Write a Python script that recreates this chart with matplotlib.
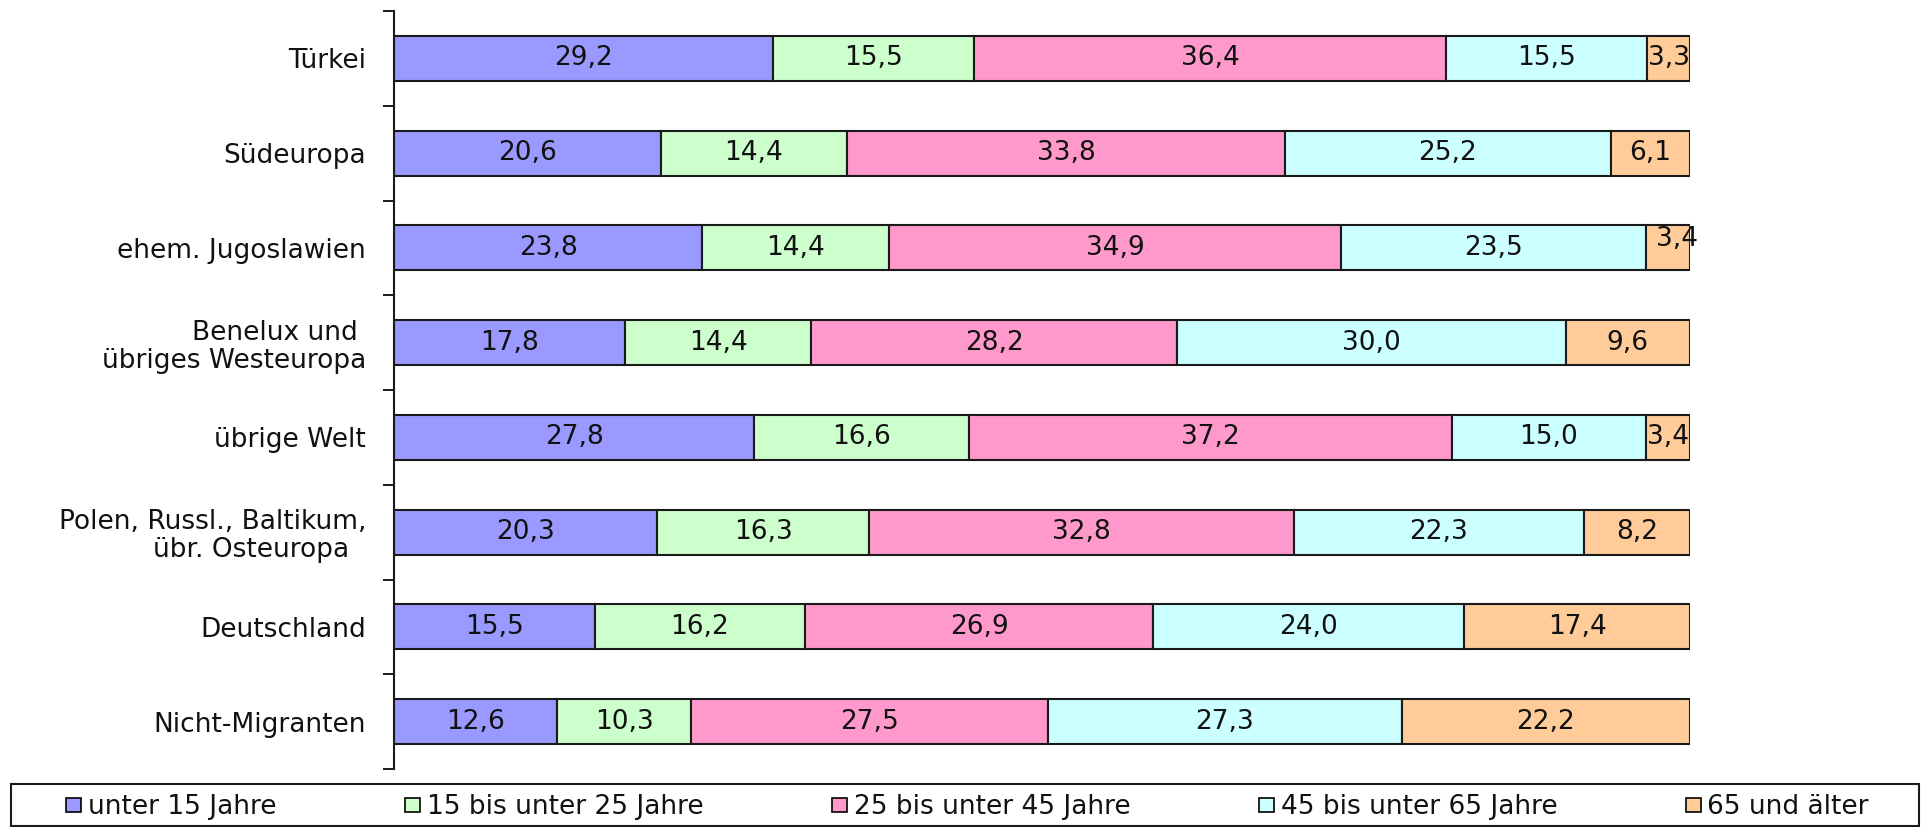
import matplotlib
matplotlib.use("Agg")
import matplotlib.pyplot as plt
from matplotlib.patches import Patch, Rectangle
import numpy as np

plt.rcParams['font.family'] = ['DejaVu Sans']

categories = [
    "Türkei",
    "Südeuropa",
    "ehem. Jugoslawien",
    "Benelux und \nübriges Westeuropa",
    "übrige Welt",
    "Polen, Russl., Baltikum,\nübr. Osteuropa  ",
    "Deutschland",
    "Nicht-Migranten",
]
series_names = [
    "unter 15 Jahre",
    "15 bis unter 25 Jahre",
    "25 bis unter 45 Jahre",
    "45 bis unter 65 Jahre",
    "65 und älter",
]
unter15 = [29.2, 20.6, 23.8, 17.8, 27.8, 20.3, 15.5, 12.6]
bis25 = [15.5, 14.4, 14.4, 14.4, 16.6, 16.3, 16.2, 10.3]
bis45 = [36.4, 33.8, 34.9, 28.2, 37.2, 32.8, 26.9, 27.5]
bis65 = [15.5, 25.2, 23.5, 30.0, 15.0, 22.3, 24.0, 27.3]
ab65 = [3.3, 6.1, 3.4, 9.6, 3.4, 8.2, 17.4, 22.2]

colors = ["#9999FF", "#CCFFCC", "#FF99CC", "#CCFFFF", "#FFCC99"]

W, H = 1924, 827
fig = plt.figure(figsize=(W / 100, H / 100), dpi=100)
ax = fig.add_axes([394 / W, 1 - 769 / H, (1690 - 394) / W, (769 - 11) / H])

data = np.array([unter15, bis25, bis45, bis65, ab65])
totals = data.sum(axis=0)
y = np.arange(len(categories))
left = np.zeros(len(categories))
FS = 19
for s, (vals, col) in enumerate(zip(data, colors)):
    widths = vals / totals * 100
    ax.barh(y, widths, left=left, height=0.475, color=col,
            edgecolor="#1a1a1a", linewidth=1.5, zorder=2)
    for i, (v, w, l) in enumerate(zip(vals, widths, left)):
        dx, dy = 0, 0
        if s == 4 and i == 2:
            dx, dy = 6.5, 6.5
        ax.annotate(f"{v:.1f}".replace(".", ","), xy=(l + w / 2, i),
                    xytext=(dx, dy), textcoords="offset points",
                    ha="center", va="center", fontsize=FS, color="#111111",
                    zorder=3)
    left = left + widths

ax.set_xlim(0, 100)
ax.set_ylim(len(categories) - 0.5, -0.5)
ax.set_xticks([])
ax.set_yticks(y)
ax.set_yticklabels(categories, fontsize=FS, linespacing=1.1, color="#111111")
ax.set_yticks(np.arange(-0.5, len(categories)), minor=True)
ax.tick_params(axis="y", which="major", length=0, pad=20)
ax.tick_params(axis="y", which="minor", length=8, width=1.4, color="#1a1a1a",
               direction="out")
for side in ["top", "right", "bottom"]:
    ax.spines[side].set_visible(False)
ax.spines["left"].set_linewidth(1.5)
ax.spines["left"].set_color("#1a1a1a")

# legend frame
fig.patches.append(Rectangle((11 / W, 1 / H), (1919 - 11) / W, (826 - 784) / H,
                             transform=fig.transFigure, fill=False,
                             edgecolor="#1a1a1a", linewidth=1.5))
handles = [Patch(facecolor=c, edgecolor="black", linewidth=1.2) for c in colors]
fig.legend(handles, series_names, loc="center left",
           bbox_to_anchor=(66 / W, 1 - 807 / H, (1869 - 66) / W, 0),
           mode="expand", ncol=5, frameon=False, borderpad=0, borderaxespad=0,
           handlelength=0.57, handleheight=0.45, handletextpad=0.25,
           fontsize=FS, labelcolor="#111111")

fig.savefig("out.png", dpi=100, facecolor="white")
